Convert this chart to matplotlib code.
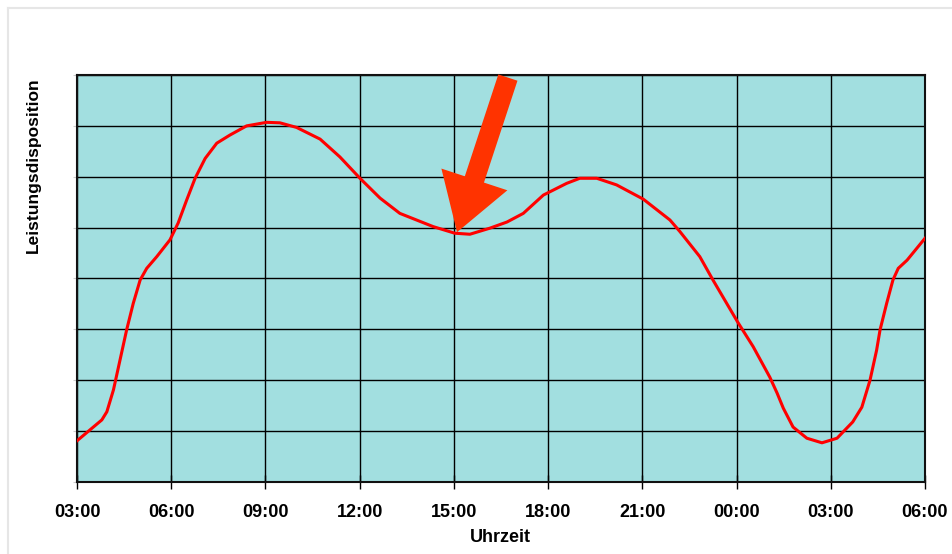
import numpy as np
import matplotlib.pyplot as plt
from matplotlib.lines import Line2D

plt.rcParams['font.family'] = ['Liberation Sans', 'DejaVu Sans']

# hours since midnight of day 1 (03:00 .. 06:00 of day 2 -> 3 .. 30)
hours = [3.0, 3.79, 3.95, 4.16, 4.37, 4.58, 4.79, 5.01, 5.22, 5.54, 5.96,
         6.22, 6.49, 6.76, 7.08, 7.45, 7.87, 8.40, 9.04, 9.46, 9.99, 10.74,
         11.37, 12.01, 12.65, 13.28, 14.34, 15.03, 15.51, 16.15, 16.69, 17.21,
         17.85, 18.59, 19.01, 19.55, 20.18, 21.03, 21.88, 22.20, 22.83, 23.25,
         24.04, 24.53, 25.06, 25.29, 25.49, 25.8, 26.24, 26.72, 27.2, 27.7,
         27.99, 28.25, 28.46, 28.57, 28.78, 28.98, 29.15, 29.43, 30.0]
leistung = [0.81, 1.22, 1.38, 1.81, 2.40, 2.99, 3.51, 3.97, 4.20, 4.43, 4.76,
            5.09, 5.54, 5.97, 6.36, 6.66, 6.82, 7.00, 7.07, 7.06, 6.97, 6.74,
            6.39, 5.97, 5.58, 5.28, 5.02, 4.89, 4.87, 4.99, 5.11, 5.28,
            5.64, 5.87, 5.97, 5.97, 5.84, 5.56, 5.15, 4.92, 4.43, 3.97,
            3.14, 2.66, 2.06, 1.75, 1.45, 1.08, 0.86, 0.77, 0.86, 1.18,
            1.47, 2.0, 2.59, 2.99, 3.51, 3.97, 4.20, 4.36, 4.79]

tick_hours = [3, 6, 9, 12, 15, 18, 21, 24, 27, 30]
tick_labels = ['03:00', '06:00', '09:00', '12:00', '15:00', '18:00',
               '21:00', '00:00', '03:00', '06:00']

# arrow pointing at the afternoon dip
arrow_tail = (16.72, 7.95)
arrow_tip = (15.1, 4.91)

fig = plt.figure(figsize=(9.52, 5.54), dpi=100)
ax = fig.add_axes([0.0809, 0.1300, 0.8907, 0.7346])
ax.set_facecolor('#A2DFE0')

ax.plot(hours, leistung, color='#FF0000', lw=2.2, solid_joinstyle='round', zorder=3)

ax.set_xlim(3, 30)
ax.set_ylim(0, 8)
ax.set_xticks(tick_hours)
ax.set_xticklabels(tick_labels, fontsize=13, fontweight='bold')
ax.set_yticks(np.arange(0, 9, 1))
ax.set_yticklabels([])
ax.tick_params(axis='x', direction='inout', length=10, width=1, pad=11)
ax.tick_params(axis='y', direction='out', length=3, width=0.8, color='#cccccc')
ax.grid(True, color='black', lw=1.0, zorder=1)
ax.set_axisbelow(True)
for s in ax.spines.values():
    s.set_linewidth(1.5)
    s.set_color('#111111')

ax.annotate('', xy=arrow_tip, xytext=arrow_tail,
            arrowprops=dict(arrowstyle='simple,head_width=5.0,head_length=4.0,tail_width=1.45',
                            color='#FF3300', lw=0, shrinkA=0, shrinkB=0,
                            mutation_scale=10),
            annotation_clip=False, zorder=5)

fig.text(0.526, 1 - 537 / 554, 'Uhrzeit', fontsize=13, fontweight='bold',
         ha='center', va='center')
fig.text(33 / 952, 1 - 165.5 / 554, 'Leistungsdisposition', rotation=90,
         fontsize=12.5, fontweight='bold', ha='center', va='center')

# light outer chart border
fig.add_artist(Line2D([8 / 952, 8 / 952], [0, 1 - 8 / 554], color='#e6e6e6', lw=1.5))
fig.add_artist(Line2D([8 / 952, 1], [1 - 8 / 554, 1 - 8 / 554], color='#e6e6e6', lw=1.5))

fig.savefig('out.png', dpi=100)
